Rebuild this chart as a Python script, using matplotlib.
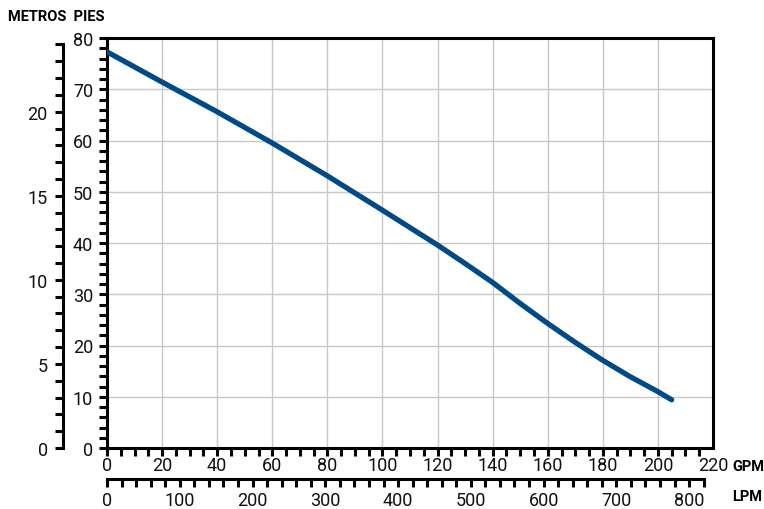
import matplotlib
matplotlib.use("Agg")
import matplotlib.pyplot as plt
import numpy as np
from matplotlib.ticker import FixedLocator

plt.rcParams['font.family'] = ["Roboto", "DejaVu Sans"]

# Data (GPM vs feet of head)
gpm = [0, 20, 40, 60, 80, 100, 120, 130, 140, 150, 160, 170, 180, 190, 200, 205]
head_ft = [77.3, 71.4, 65.6, 59.5, 53.1, 46.4, 39.6, 36.0, 32.3, 28.2, 24.3, 20.6, 17.1, 13.9, 11.0, 9.4]

gpm_ticks = list(range(0, 221, 20))
lpm_ticks = list(range(0, 801, 100))
ft_ticks = list(range(0, 81, 10))
m_ticks = list(range(0, 21, 5))

LPM_PER_GPM = 3.78541
M_PER_FT = 0.3048

W, H = 764, 510
fig = plt.figure(figsize=(W / 100, H / 100), dpi=100)

L, R, T, B = 107, 713, 39, 449
ax = fig.add_axes([L / W, 1 - B / H, (R - L) / W, (B - T) / H])
ax.set_xlim(0, 220)
ax.set_ylim(0, 80)
ax.grid(True, color="#c8c8c8", linewidth=1.0)
ax.set_axisbelow(True)
ax.plot(gpm, head_ft, color="#004b87", linewidth=3.8, solid_capstyle="round", solid_joinstyle="round", zorder=3)

for s in ax.spines.values():
    s.set_linewidth(2.2)
    s.set_color("black")

tk = dict(labelsize=13, width=2.2, length=6, color="black", labelcolor="#111111")
ax.xaxis.set_major_locator(FixedLocator(gpm_ticks))
ax.xaxis.set_minor_locator(FixedLocator([v for v in range(0, 216, 5) if v % 20]))
ax.yaxis.set_major_locator(FixedLocator(ft_ticks))
ax.yaxis.set_minor_locator(FixedLocator([v for v in range(0, 80, 2) if v % 10]))
ax.tick_params(axis="both", which="both", direction="out", **tk)
ax.tick_params(axis="x", which="major", pad=0)
ax.tick_params(axis="y", which="major", pad=4)
ax.xaxis.get_major_ticks()[-1].tick1line.set_visible(False)

# LPM axis
ly = 480
ax2 = fig.add_axes([L / W, 1 - ly / H, (R - L) / W, 0.0001])
ax2.set_xlim(0, 220 * LPM_PER_GPM)
for k in ["top", "left", "right"]:
    ax2.spines[k].set_visible(False)
ax2.spines["bottom"].set_linewidth(2.2)
ax2.spines["bottom"].set_bounds(0, 820)
ax2.set_yticks([])
ax2.xaxis.set_major_locator(FixedLocator(lpm_ticks))
ax2.xaxis.set_minor_locator(FixedLocator([v for v in range(0, 821, 20) if v % 100]))
ax2.tick_params(axis="x", which="both", direction="out", **tk)
ax2.tick_params(axis="x", which="major", pad=3)
ax2.patch.set_visible(False)

# Metros axis
mx = 63
ax3 = fig.add_axes([mx / W, 1 - B / H, 0.0001, (B - T) / H])
ax3.set_ylim(0, 80 * M_PER_FT)
for k in ["top", "bottom", "right"]:
    ax3.spines[k].set_visible(False)
ax3.spines["left"].set_linewidth(2.2)
ax3.spines["left"].set_bounds(0, 24)
ax3.set_xticks([])
ax3.yaxis.set_major_locator(FixedLocator(m_ticks))
ax3.yaxis.set_minor_locator(FixedLocator([v for v in range(0, 25) if v % 5]))
ax3.tick_params(axis="y", which="both", direction="out", **tk)
ax3.tick_params(axis="y", which="major", pad=5)
ax3.patch.set_visible(False)

bold = dict(fontsize=10.5, fontweight="bold", color="black")
fig.text(8 / W, 1 - 17 / H, "METROS  PIES", ha="left", va="center", **bold)
fig.text(732 / W, 1 - 467 / H, "GPM", ha="left", va="center", **bold)
fig.text(732 / W, 1 - 497 / H, "LPM", ha="left", va="center", **bold)

fig.savefig("out.png", dpi=100, facecolor="white")
